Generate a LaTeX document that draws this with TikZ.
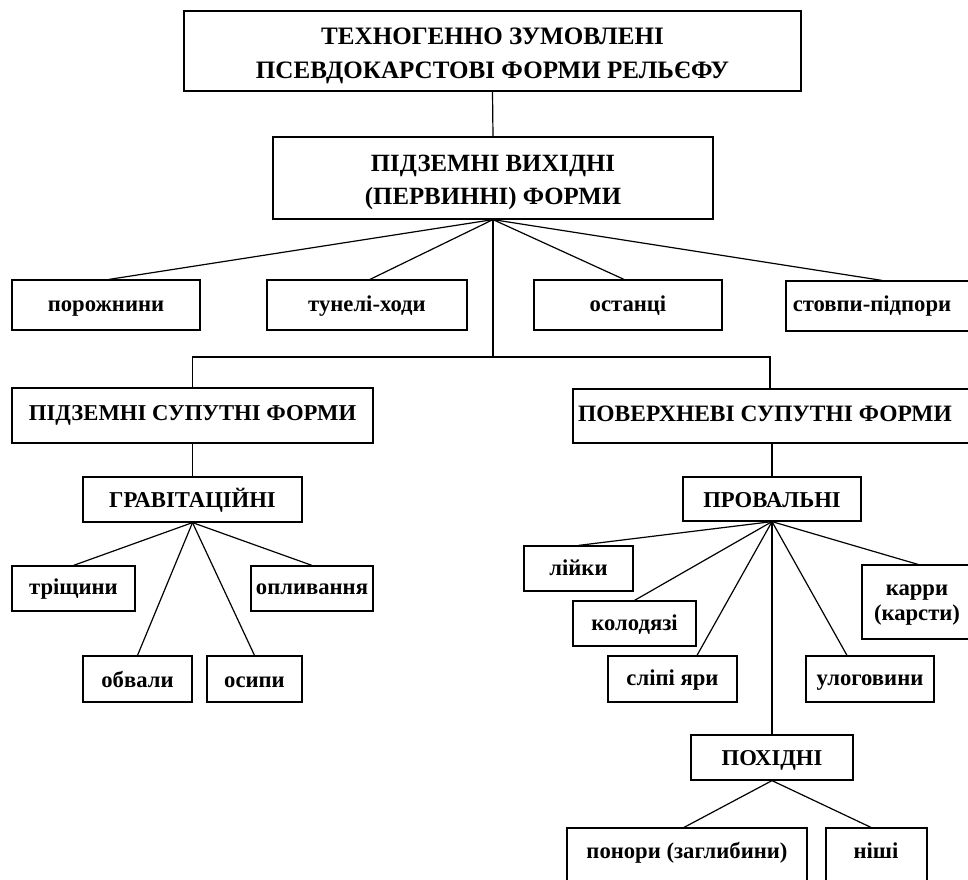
\documentclass[tikz,border=0pt]{standalone}
\usepackage{fontspec}
\setmainfont{Liberation Serif}
\usetikzlibrary{fit,calc}
\begin{document}
\begin{tikzpicture}[x={(0.75pt,0)}, y={(0,-0.75pt)},
  box/.style={draw, line width=0.9pt, inner sep=0pt},
  lbl/.style={font=\bfseries\fontsize{17}{25}\selectfont, align=center, inner sep=0pt},
  bl/.style={lbl, anchor=base},
  conn/.style={line width=0.9pt}]
\useasboundingbox (0,0) rectangle (968,879);
\clip (0,0) rectangle (968,879);

% boxes
\node[box, fit={(184,11) (801,91)}] (top) {};
\node[lbl, font=\bfseries\fontsize{18.8}{25.5}\selectfont] (topt) at ($(top.center)+(0,5)$) {ТЕХНОГЕННО ЗУМОВЛЕНІ\\ПСЕВДОКАРСТОВІ ФОРМИ РЕЛЬЄФУ};
\node[box, fit={(273,137) (713,219)}] (b2) {};
\node[lbl, font=\bfseries\fontsize{18.6}{24.8}\selectfont] (b2t) at ($(b2.center)+(0,4)$) {ПІДЗЕМНІ ВИХІДНІ\\(ПЕРВИННІ) ФОРМИ};

\node[box, fit={(12,280) (200,330)}] (por) {};
\node[bl] (port) at ($(por.center)+(0,6)$) {порожнини};
\node[box, fit={(267,280) (467,330)}] (tun) {};
\node[bl] (tunt) at ($(tun.center)+(0,6)$) {тунелі-ходи};
\node[box, fit={(534,280) (722,330)}] (ost) {};
\node[bl] (ostt) at ($(ost.center)+(0,6)$) {останці};
\node[box, fit={(786,281) (990,331)}] (stov) {};
\node[bl] (stovt) at (872,311) {стовпи-підпори};

\node[box, fit={(12,388) (373,443)}] (pid) {};
\node[bl] (pidt) at (192.5,420) {ПІДЗЕМНІ СУПУТНІ ФОРМИ};
\node[box, fit={(573,389) (990,443)}] (pov) {};
\node[bl, font=\bfseries\fontsize{17.6}{25}\selectfont] (povt) at (765,421) {ПОВЕРХНЕВІ СУПУТНІ ФОРМИ};

\node[box, fit={(83,477) (302,522)}] (grav) {};
\node[bl] (gravt) at ($(grav.center)+(0,8)$) {ГРАВІТАЦІЙНІ};
\node[box, fit={(683,477) (861,521)}] (prov) {};
\node[bl] (provt) at ($(prov.center)+(0,8)$) {ПРОВАЛЬНІ};

\node[box, fit={(12,566) (135,611)}] (tri) {};
\node[bl] (trit) at ($(tri.center)+(0,5.5)$) {тріщини};
\node[box, fit={(251,566) (373,611)}] (opl) {};
\node[bl] (oplt) at ($(opl.center)+(0,5.5)$) {опливання};
\node[box, fit={(83,656) (192,702)}] (obv) {};
\node[bl] (obvt) at ($(obv.center)+(0,8)$) {обвали};
\node[box, fit={(207,656) (302,702)}] (osy) {};
\node[bl] (osyt) at ($(osy.center)+(0,8)$) {осипи};

\node[box, fit={(524,546) (633,591)}] (liy) {};
\node[bl] (liyt) at ($(liy.center)+(0,6.5)$) {лійки};
\node[box, fit={(573,601) (696,646)}] (kol) {};
\node[bl] (kolt) at ($(kol.center)+(0,6.5)$) {колодязі};
\node[box, fit={(608,656) (737,702)}] (sli) {};
\node[bl] (slit) at ($(sli.center)+(0,6)$) {сліпі яри};
\node[box, fit={(806,656) (934,702)}] (ulo) {};
\node[bl] (ulot) at ($(ulo.center)+(0,6)$) {улоговини};
\node[box, fit={(862,565) (990,639)}] (kar) {};
\node[lbl, font=\bfseries\fontsize{17}{19}\selectfont] (kart) at (917,605) {карри\\(карсти)};

\node[box, fit={(691,735) (853,780)}] (pokh) {};
\node[bl] (pokht) at ($(pokh.center)+(0,7.5)$) {ПОХІДНІ};
\node[box, fit={(567,828) (807,900)}] (pon) {};
\node[bl] (pont) at (687,858) {понори (заглибини)};
\node[box, fit={(826,828) (927,900)}] (nis) {};
\node[bl] (nist) at (876,858) {ніші};

% connectors
\draw[conn] (top.south) -- (b2.north);
\draw[conn] (b2.south) -- (por.north -| 109,0);
\draw[conn] (b2.south) -- (tun.north -| 370,0);
\draw[conn] (b2.south) -- (ost.north -| 624,0);
\draw[conn] (b2.south) -- (stov.north -| 882,0);

\coordinate (hub) at (493,357);
\draw[conn] (b2.south) -- (hub);
\draw[conn] (pid.north) |- (hub) -| (pov.north -| 770,0);

\draw[conn] (pid.south) -- (grav.north);
\draw[conn] (prov.north |- pov.south) -- (prov.north);

\foreach \n in {tri,opl,obv,osy} \draw[conn] (grav.south) -- (\n.north);

\draw[conn] (prov.south) -- (liy.north);
\draw[conn] (prov.south) -- (kol.north);
\draw[conn] (prov.south) -- (sli.north -| 697,0);
\draw[conn] (prov.south) -- (ulo.north -| 847,0);
\draw[conn] (prov.south) -- (kar.north -| 918,0);
\draw[conn] (prov.south) -- (pokh.north);

\draw[conn] (pokh.south) -- (pon.north -| 684,0);
\draw[conn] (pokh.south) -- (nis.north -| 871,0);
\end{tikzpicture}
\end{document}
